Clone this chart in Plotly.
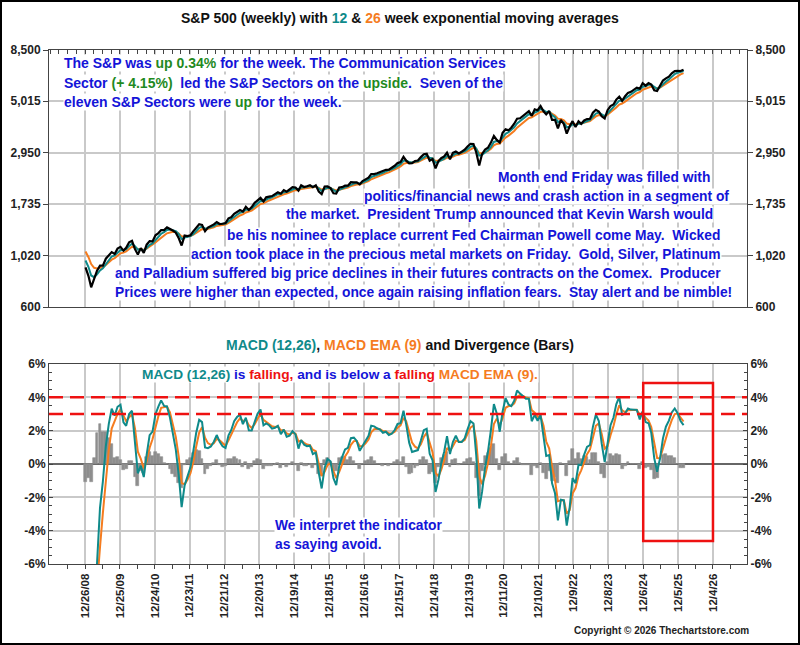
import numpy as np
import pandas as pd
import plotly.graph_objects as go

# S&P 500 month-end closes, Jan 2008 .. Jan 2026.
# 2008 is only there to seed the averages; the chart starts at 12/26/08.
closes = [
    1378.55, 1330.63, 1322.70, 1385.59, 1400.38, 1280.00, 1267.38, 1282.83, 1166.36, 968.75, 896.24, 903.25,
    825.88, 735.09, 797.87, 872.81, 919.14, 919.32, 987.48, 1020.62, 1057.08, 1036.19, 1095.63, 1115.10,
    1073.87, 1104.49, 1169.43, 1186.69, 1089.41, 1030.71, 1101.60, 1049.33, 1141.20, 1183.26, 1180.55, 1257.64,
    1286.12, 1327.22, 1325.83, 1363.61, 1345.20, 1320.64, 1292.28, 1218.89, 1131.42, 1253.30, 1246.96, 1257.60,
    1312.41, 1365.68, 1408.47, 1397.91, 1310.33, 1362.16, 1379.32, 1406.58, 1440.67, 1412.16, 1416.18, 1426.19,
    1498.11, 1514.68, 1569.19, 1597.57, 1630.74, 1606.28, 1685.73, 1632.97, 1681.55, 1756.54, 1805.81, 1848.36,
    1782.59, 1859.45, 1872.34, 1883.95, 1923.57, 1960.23, 1930.67, 2003.37, 1972.29, 2018.05, 2067.56, 2058.90,
    1994.99, 2104.50, 2067.89, 2085.51, 2107.39, 2063.11, 2103.84, 1972.18, 1920.03, 2079.36, 2080.41, 2043.94,
    1940.24, 1932.23, 2059.74, 2065.30, 2096.95, 2098.86, 2173.60, 2170.95, 2168.27, 2126.15, 2198.81, 2238.83,
    2278.87, 2363.64, 2362.72, 2384.20, 2411.80, 2423.41, 2470.30, 2471.65, 2519.36, 2575.26, 2647.58, 2673.61,
    2823.81, 2713.83, 2640.87, 2648.05, 2705.27, 2718.37, 2816.29, 2901.52, 2913.98, 2711.74, 2760.17, 2506.85,
    2704.10, 2784.49, 2834.40, 2945.83, 2752.06, 2941.76, 2980.38, 2926.46, 2976.74, 3037.56, 3140.98, 3230.78,
    3225.52, 2954.22, 2584.59, 2912.43, 3044.31, 3100.29, 3271.12, 3500.31, 3363.00, 3269.96, 3621.63, 3756.07,
    3714.24, 3811.15, 3972.89, 4181.17, 4204.11, 4297.50, 4395.26, 4522.68, 4307.54, 4605.38, 4567.00, 4766.18,
    4515.55, 4373.94, 4530.41, 4131.93, 4132.15, 3785.38, 4130.29, 3955.00, 3585.62, 3871.98, 4080.11, 3839.50,
    4076.60, 3970.15, 4109.31, 4169.48, 4179.83, 4450.38, 4588.96, 4507.66, 4288.05, 4193.80, 4567.80, 4769.83,
    4845.65, 5096.27, 5254.35, 5035.69, 5277.51, 5460.48, 5522.30, 5648.40, 5762.48, 5705.45, 6032.38, 5881.63,
    6040.53, 5954.50, 5611.85, 5569.06, 5911.69, 6204.95, 6339.39, 6460.26, 6688.46, 6840.20, 6849.09, 6845.50,
    6939.03,
]
first_shown = "2008-12-01"

x_tickvals = ["2008-12-26", "2009-12-25", "2010-12-24", "2011-12-23", "2012-12-21", "2013-12-20",
              "2014-12-19", "2015-12-18", "2016-12-16", "2017-12-15", "2018-12-14", "2019-12-13",
              "2020-12-11", "2021-12-10", "2022-12-09", "2023-12-08", "2024-12-06", "2025-12-05",
              "2026-12-04"]
x_ticktext = ["12/26/08", "12/25/09", "12/24/10", "12/23/11", "12/21/12", "12/20/13", "12/19/14",
              "12/18/15", "12/16/16", "12/15/17", "12/14/18", "12/13/19", "12/11/20", "12/10/21",
              "12/9/22", "12/8/23", "12/6/24", "12/5/25", "12/4/26"]
price_ticks = [600, 1020, 1735, 2950, 5015, 8500]
price_ticktext = ["600", "1,020", "1,735", "2,950", "5,015", "8,500"]
macd_ticks = [-6, -4, -2, 0, 2, 4, 6]
macd_ticktext = ["-6%", "-4%", "-2%", "0%", "2%", "4%", "6%"]
alert_levels = [4, 3]
alert_box = ("2024-12-06", "2026-12-04", -4.62, 4.86)

TEAL = "#0f8a8a"
ORANGE = "#f57c1f"
BLUE = "#1414d8"
GREEN = "#1f8a1f"
RED = "#ee1111"
BARGRAY = "#8e8e8e"
FONT = "Liberation Sans, Arial, sans-serif"

# ---- averages: weekly EMA lengths expressed on monthly data (same lag)
s = pd.Series(closes, index=pd.date_range("2008-01-31", periods=len(closes), freq=pd.offsets.MonthEnd()))


def ema(series, weeks):
    span = (weeks - 1) / (52 / 12) + 1
    return series.ewm(span=span, adjust=False).mean()


ema12 = ema(s, 12)
ema26 = ema(s, 26)
macd = (ema12 - ema26) / ema26 * 100
signal = ema(macd, 9)
diverg = macd - signal

shown = s.index >= first_shown
d = s.index[shown]

fig = go.Figure()
fig.add_trace(go.Scatter(x=d, y=ema26[shown], mode="lines", line=dict(color=ORANGE, width=2), xaxis="x", yaxis="y"))
fig.add_trace(go.Scatter(x=d, y=ema12[shown], mode="lines", line=dict(color=TEAL, width=2), xaxis="x", yaxis="y"))
fig.add_trace(go.Scatter(x=d, y=s[shown], mode="lines", line=dict(color="black", width=2.2), xaxis="x", yaxis="y"))
fig.add_trace(go.Scatter(x=d[:1], y=s[shown][:1], mode="lines", line=dict(width=0), xaxis="x", yaxis="y3",
                         hoverinfo="skip"))

fig.add_trace(go.Bar(x=d, y=diverg[shown], marker=dict(color=BARGRAY, line=dict(width=0.6, color=BARGRAY)),
                     width=30 * 86400000, xaxis="x2", yaxis="y2"))
fig.add_trace(go.Scatter(x=d, y=signal[shown], mode="lines", line=dict(color=ORANGE, width=2), xaxis="x2", yaxis="y2"))
fig.add_trace(go.Scatter(x=d, y=macd[shown], mode="lines", line=dict(color=TEAL, width=2), xaxis="x2", yaxis="y2"))
fig.add_trace(go.Scatter(x=d[:1], y=[0], mode="lines", line=dict(width=0), xaxis="x2", yaxis="y4",
                         hoverinfo="skip"))

x_range = ["2007-12-16", "2027-11-24"]
grid = "#c9c9c9"
axis_line = "#444444"
tick_font = dict(family=FONT, size=12, color="#222222", weight="bold")
day_ms = 86400000

common_x = dict(type="date", range=x_range, tickmode="array", tickvals=x_tickvals, showgrid=True,
                gridcolor=grid, gridwidth=1.5, showline=True, linecolor=axis_line, linewidth=1,
                mirror=True, zeroline=False)
price_y = dict(type="log", range=[np.log10(600), np.log10(8500)], tickmode="array", tickvals=price_ticks,
               ticktext=price_ticktext, ticks="outside", ticklen=5, tickcolor=axis_line, tickfont=tick_font,
               showline=True, linecolor=axis_line, linewidth=1)
macd_y = dict(range=[-6, 6], tickmode="array", tickvals=macd_ticks, ticktext=macd_ticktext, ticks="inside",
              ticklen=4, tickcolor=axis_line, tickfont=tick_font, showline=True, linecolor=axis_line,
              linewidth=1, minor=dict(dtick=0.5, ticks="inside", ticklen=3, tickcolor=axis_line))

fig.update_layout(
    width=800, height=645,
    margin=dict(l=49, r=53, t=50, b=81),
    paper_bgcolor="white", plot_bgcolor="white",
    showlegend=False, bargap=0,
    xaxis=dict(common_x, domain=[0, 1], anchor="y", side="top", showticklabels=False, ticks="inside",
               ticklen=4, tickcolor=axis_line,
               minor=dict(ticks="inside", ticklen=4, dtick=91 * day_ms, tick0="2008-12-26",
                          tickcolor=axis_line, showgrid=False)),
    yaxis=dict(price_y, domain=[0.5, 1], anchor="x", showgrid=True, gridcolor=grid, gridwidth=1.5),
    yaxis3=dict(price_y, overlaying="y", side="right", showgrid=False),
    xaxis2=dict(common_x, domain=[0, 1], anchor="y2", ticktext=x_ticktext, tickangle=-90,
                tickfont=dict(tick_font, size=11.5),
                ticks="outside", ticklen=4, tickcolor=axis_line,
                minor=dict(ticks="outside", ticklen=4, dtick=364 * day_ms, tick0="2008-06-27",
                           tickcolor=axis_line, showgrid=False)),
    yaxis2=dict(macd_y, domain=[0, 200 / 514], anchor="x2", showgrid=True, gridcolor=grid, gridwidth=1.5,
                zeroline=True, zerolinecolor="#666666", zerolinewidth=1.5),
    yaxis4=dict(macd_y, overlaying="y2", side="right", showgrid=False, zeroline=False),
)

shapes = []
for lvl in alert_levels:
    shapes.append(dict(type="line", xref="x2 domain", yref="y2", x0=0, x1=1, y0=lvl, y1=lvl,
                       line=dict(color=RED, width=2.5, dash="14px,7px")))
shapes.append(dict(type="rect", xref="x2", yref="y2", x0=alert_box[0], x1=alert_box[1], y0=alert_box[2],
                   y1=alert_box[3], line=dict(color=RED, width=2.5)))
# frame round the whole picture
shapes.append(dict(type="rect", xref="paper", yref="paper", x0=(1 - 49) / 698, x1=(799 - 49) / 698,
                   y0=(564 - 644) / 514, y1=(564 - 1) / 514, line=dict(color="black", width=2)))
fig.update_layout(shapes=shapes)


def col(text, color):
    return f'<span style="color:{color}">{text}</span>'


def note(px, py, text, size=13.8, color=BLUE, anchor="left", bg="white"):
    fig.add_annotation(xref="paper", yref="paper", x=(px - 49) / 698, y=(564 - py) / 514, text=text,
                       showarrow=False, xanchor=anchor, yanchor="middle", bgcolor=bg, borderpad=0,
                       font=dict(family=FONT, size=size, color=color, weight="bold"))


sp = "\u00a0 "
note(400, 18, "S&amp;P 500 (weekly) with " + col("12", TEAL) + " &amp; " + col("26", ORANGE)
     + " week exponential moving averages", size=14, color="#111111", anchor="center", bg=None)

note(63, 63, "The S&amp;P was " + col("up 0.34%", GREEN) + " for the week. The Communication Services", size=14)
note(63, 83, "Sector " + col("(+ 4.15%)", GREEN) + sp + "led the S&amp;P Sectors on the " + col("upside", GREEN)
     + "." + sp + "Seven of the", size=14)
note(63, 102, "eleven S&amp;P Sectors were " + col("up", GREEN) + " for the week.", size=14)

right_lines = [
    (497, 177, "Month end Friday was filled with"),
    (363, 196, "politics/financial news and crash action in a segment of"),
    (285, 215, "the market." + sp + "President Trump announced that Kevin Warsh would"),
    (226, 235, "be his nominee to replace current Fed Chairman Powell come May." + sp + "Wicked"),
    (190, 254, "action took place in the precious metal markets on Friday." + sp + "Gold, Silver, Platinum"),
    (114, 273, "and Palladium suffered big price declines in their futures contracts on the Comex." + sp + "Producer"),
    (114, 292, "Prices were higher than expected, once again raising inflation fears." + sp + "Stay alert and be nimble!"),
]
for px, py, t in right_lines:
    note(px, py, t)

note(400, 345, col("MACD (12,26)", TEAL) + ", " + col("MACD EMA (9)", ORANGE) + " and Divergence (Bars)",
     size=14, color="#111111", anchor="center", bg=None)
note(141, 374, col("MACD (12,26)", TEAL) + " is " + col("falling,", RED) + " and is below a " + col("falling", RED)
     + " " + col("MACD EMA (9).", ORANGE), size=13.7)
note(274, 525, "We interpret the indicator")
note(274, 544, "as saying avoid.")
note(750, 630, "Copyright \u00a9 2026 Thechartstore.com", size=10, color="#222222", anchor="right", bg=None)

fig.write_html("out.html", config={"displayModeBar": False},
               post_script="document.body.style.margin='0';")
